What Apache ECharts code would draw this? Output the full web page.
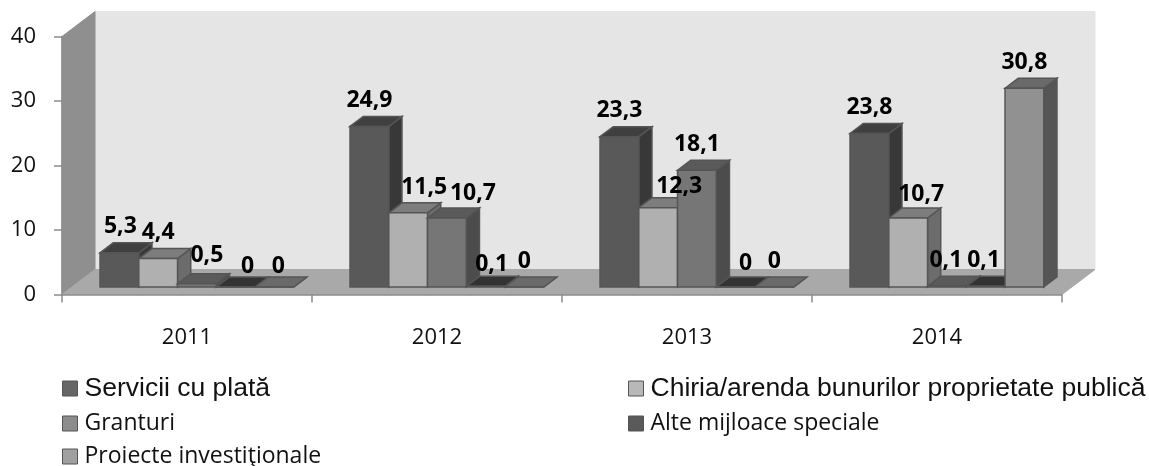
<!DOCTYPE html>
<html>
<head>
<meta charset="utf-8">
<style>
  html, body { margin: 0; padding: 0; background: #fff; }
  #chart { width: 1149px; height: 466px; }
</style>
<script src="https://cdn.jsdelivr.net/npm/echarts@6/dist/echarts.min.js"></script>
</head>
<body>
<div id="chart"></div>
<script>
const years = ["2011", "2012", "2013", "2014"];
const yTicks = [0, 10, 20, 30, 40];
const seriesNames = [
  "Servicii cu plată",
  "Chiria/arenda bunurilor proprietate publică",
  "Granturi",
  "Alte mijloace speciale",
  "Proiecte investiţionale"
];
const servicii = [5.3, 24.9, 23.3, 23.8];
const chirie = [4.4, 11.5, 12.3, 10.7];
const granturi = [0.5, 10.7, 18.1, 0.1];
const alte = [0, 0.1, 0, 0.1];
const proiecte = [0, 0, 0, 30.8];
const values = [servicii, chirie, granturi, alte, proiecte];

// front, top, side
const shades = [
  ["#595959", "#3f3f3f", "#383838"],
  ["#b0b0b0", "#7d7d7d", "#6c6c6c"],
  ["#767676", "#5a5a5a", "#4c4c4c"],
  ["#4d4d4d", "#333333", "#2e2e2e"],
  ["#919191", "#6a6a6a", "#555555"]
];
const legendIcons = ["#666666", "#b8b8b8", "#8c8c8c", "#5a5a5a", "#a0a0a0"];

// label nudges [dx, dy] where the labels were moved apart by hand
const labelNudge = {
  "0-0": [1, 0], "1-0": [0, 0], "2-0": [10, -2], "3-0": [12, 5], "4-0": [4, 5],
  "1-1": [16, 1], "2-1": [26, 1], "3-1": [6, 4], "4-1": [0, 0],
  "1-2": [21, 5], "3-2": [10, 2], "4-2": [0, 0],
  "1-3": [13, 2], "2-3": [-1, 0], "3-3": [-2, 0]
};

const depthX = 33, depthY = 25;   // full depth of the 3D box
const barDepth = 0.4, barOffset = 0.3;

function poly(points, fill, stroke, width) {
  return {
    type: "polygon",
    shape: { points: points },
    style: { fill: fill, stroke: stroke || fill, lineWidth: width || 1 }
  };
}

function renderWalls(params) {
  const c = params.coordSys;
  const l = c.x, r = c.x + c.width, t = c.y, b = c.y + c.height;
  return {
    type: "group",
    children: [
      poly([[l + depthX, t - depthY], [r + depthX, t - depthY], [r + depthX, b - depthY], [l + depthX, b - depthY]], "#e5e5e5"),
      poly([[l, t], [l + depthX, t - depthY], [l + depthX, b - depthY], [l, b]], "#8f8f8f"),
      poly([[l, b], [l + depthX, b - depthY], [r + depthX, b - depthY], [r, b]], "#a9a9a9")
    ]
  };
}

function renderBar(params, api) {
  const s = params.seriesIndex - 1;
  const cat = api.value(0);
  const val = api.value(1);
  const band = api.size([1, 0])[0];
  const w = band * 0.155;
  const top = api.coord([cat, val]);
  const base = api.coord([cat, 0]);
  const ox = depthX * barOffset, oy = depthY * barOffset;
  const dx = depthX * barDepth, dy = depthY * barDepth;
  const x0 = base[0] - 2.5 * w + s * w + ox;
  const x1 = x0 + w;
  const yb = base[1] - oy;
  const yt = top[1] - oy;
  const col = shades[s];
  const edge = "#555555";
  const nudge = labelNudge[s + "-" + cat] || [0, 0];
  return {
    type: "group",
    children: [
      poly([[x1, yb], [x1 + dx, yb - dy], [x1 + dx, yt - dy], [x1, yt]], col[2], edge, 1.5),
      poly([[x0, yt], [x0 + dx, yt - dy], [x1 + dx, yt - dy], [x1, yt]], col[1], edge, 1.5),
      poly([[x0, yb], [x0, yt], [x1, yt], [x1, yb]], col[0], edge, 1.5),
      {
        type: "text",
        z2: 100,
        x: x0 + w / 2 + nudge[0],
        y: yt - 26 + nudge[1],
        style: {
          text: String(val).replace(".", ","),
          fill: "#000",
          font: "bold 23px 'Open Sans'",
          textAlign: "center",
          textVerticalAlign: "middle"
        }
      }
    ]
  };
}

const legendSpots = [
  { left: 62, top: 375, font: "Liberation Sans", size: 26.5 },
  { left: 628, top: 375, font: "Liberation Sans", size: 26.5 },
  { left: 62, top: 412, font: "Open Sans", size: 23 },
  { left: 628, top: 412, font: "Open Sans", size: 23 },
  { left: 62, top: 445, font: "Open Sans", size: 23 }
];

const chart = echarts.init(document.getElementById("chart"));
chart.setOption({
  animation: false,
  backgroundColor: "#fff",
  grid: { left: 62, right: 87, top: 36.5, height: 258 },
  legend: legendSpots.map((p, i) => ({
    left: p.left,
    top: p.top,
    padding: 0,
    itemWidth: 15,
    itemHeight: 15,
    itemGap: 0,
    icon: "rect",
    selectedMode: false,
    data: [{
      name: seriesNames[i],
      itemStyle: { color: legendIcons[i], borderColor: "#555", borderWidth: 1 }
    }],
    textStyle: { fontFamily: p.font, fontSize: p.size, color: "#111", padding: [0, 0, 0, 2] }
  })),
  xAxis: {
    type: "category",
    data: years,
    axisLine: { lineStyle: { color: "#8c8c8c", width: 1.5 } },
    axisTick: { show: true, length: 8, alignWithLabel: false, lineStyle: { color: "#8c8c8c", width: 1.5 } },
    axisLabel: { color: "#111", fontFamily: "Open Sans", fontSize: 22, margin: 32 },
    splitLine: { show: false }
  },
  yAxis: {
    type: "value",
    min: yTicks[0],
    max: yTicks[yTicks.length - 1],
    interval: 10,
    axisLine: { show: true, lineStyle: { color: "#8c8c8c", width: 1.5 } },
    axisTick: { show: true, length: 8, lineStyle: { color: "#8c8c8c", width: 1.5 } },
    axisLabel: { color: "#111", fontFamily: "Open Sans", fontSize: 22, margin: 26 },
    splitLine: { show: false }
  },
  series: [
    {
      type: "custom",
      name: "walls",
      silent: true,
      z: 0,
      renderItem: renderWalls,
      data: [[0, 0]],
      encode: { x: 0, y: 1 }
    }
  ].concat(seriesNames.map((name, i) => ({
    type: "custom",
    name: name,
    z: 3,
    renderItem: renderBar,
    itemStyle: { color: legendIcons[i] },
    encode: { x: 0, y: 1 },
    data: values[i].map((v, c) => [c, v])
  })))
});
</script>
</body>
</html>
